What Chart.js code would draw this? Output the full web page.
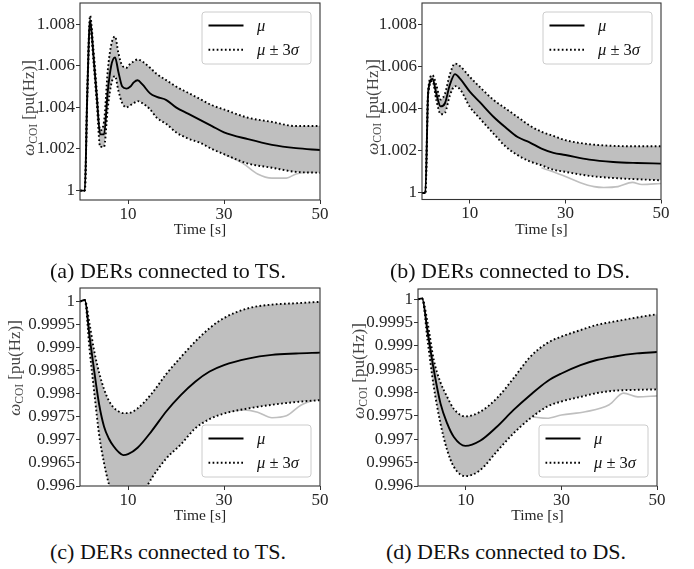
<!DOCTYPE html>
<html><head><meta charset="utf-8">
<script src="https://cdn.jsdelivr.net/npm/chart.js@4.4.0/dist/chart.umd.min.js"></script>
<style>
html,body{margin:0;padding:0;background:#fff;}
#wrap{position:relative;width:694px;height:569px;overflow:hidden;background:#fff;}
#wrap canvas{position:absolute;}
.cap{position:absolute;font-family:"Liberation Serif","Times New Roman",serif;font-size:22px;color:#111;white-space:nowrap;transform:translate(-50%,-50%);line-height:1;}
</style></head><body>
<div id="wrap">
<canvas id="cA"></canvas><canvas id="cB"></canvas><canvas id="cC"></canvas><canvas id="cD"></canvas>
<div class="cap" id="capA" style="left:168px;top:271px"></div>
<div class="cap" id="capB" style="left:510px;top:271px"></div>
<div class="cap" id="capC" style="left:168px;top:552px"></div>
<div class="cap" id="capD" style="left:506px;top:552px"></div>
</div>
<script>
// ---------- data ----------
const xTicks = [10, 30, 50];
const yTicksTop = [1, 1.002, 1.004, 1.006, 1.008];
const yTicksBottom = [0.996, 0.9965, 0.997, 0.9975, 0.998, 0.9985, 0.999, 0.9995, 1];
const meanLabel = 'μ';
const bandLabel = 'μ ± 3σ';
const xTitle = 'Time [s]';
const yLabelSymbol = 'ω';
const yLabelSub = 'COI';
const yLabelUnit = ' [pu(Hz)]';
const captions = ['(a) DERs connected to TS.', '(b) DERs connected to DS.', '(c) DERs connected to TS.', '(d) DERs connected to DS.'];

// (a) frequency rise, DERs at TS
const timeA  = [0, 1, 1.5, 2.1, 2.8, 3.5, 4.2, 5.0, 5.8, 6.5, 7.3, 8.0, 8.8, 9.7, 10.5, 11.2, 12.0, 13.0, 14.6, 16.0, 18.0, 20, 22.5, 25, 27.5, 30, 35, 40, 45, 50];
const meanA  = [1.0, 1.0, 1.0045, 1.0082, 1.0065, 1.0045, 1.0027, 1.0027, 1.0048, 1.0060, 1.0064, 1.0057, 1.0050, 1.0049, 1.0050, 1.0052, 1.0053, 1.0051, 1.00467, 1.0045, 1.00435, 1.0040, 1.0037, 1.0034, 1.0031, 1.0028, 1.00247, 1.0022, 1.00204, 1.00195];
const upperA = [1.0, 1.0, 1.0047, 1.0084, 1.0068, 1.0048, 1.0029, 1.0033, 1.0058, 1.0070, 1.0074, 1.0066, 1.0060, 1.0059, 1.0061, 1.0062, 1.0063, 1.0062, 1.0059, 1.0056, 1.0053, 1.0050, 1.0047, 1.0044, 1.0041, 1.0039, 1.0035, 1.0033, 1.0031, 1.0031];
const lowerA = [1.0, 1.0, 1.0043, 1.0079, 1.0062, 1.0042, 1.0021, 1.0021, 1.0040, 1.0051, 1.0055, 1.0048, 1.0042, 1.0040, 1.0041, 1.0042, 1.0043, 1.0042, 1.0039, 1.0035, 1.0032, 1.0028, 1.0025, 1.0023, 1.0020, 1.00175, 1.0013, 1.0011, 1.0009, 1.00086];
const outTimeA = [30, 34, 37, 40, 43, 45, 48, 50];
const outA     = [1.00175, 1.0013, 1.0008, 1.0006, 1.0006, 1.0008, 1.0009, 1.00095];

// (b) frequency rise, DERs at DS
const timeB  = [0, 0.7, 1.3, 2.2, 3.0, 3.9, 4.8, 5.8, 6.9, 8.0, 10, 12.1, 15, 17.5, 20, 22.5, 25, 27.5, 30, 35, 40, 45, 50];
const meanB  = [1.0, 1.0, 1.0048, 1.0054, 1.0047, 1.0041, 1.00425, 1.0051, 1.00563, 1.0054, 1.0048, 1.0043, 1.0036, 1.0031, 1.00265, 1.0024, 1.0021, 1.0019, 1.0018, 1.00158, 1.00147, 1.00142, 1.00139];
const upperB = [1.0, 1.0, 1.0049, 1.00558, 1.0051, 1.00443, 1.0047, 1.0056, 1.00613, 1.0060, 1.0055, 1.00502, 1.0044, 1.0040, 1.0036, 1.0032, 1.0029, 1.0027, 1.0025, 1.00231, 1.00223, 1.00221, 1.00221];
const lowerB = [1.0, 1.0, 1.0047, 1.0053, 1.0044, 1.00373, 1.0038, 1.0046, 1.00506, 1.0049, 1.00408, 1.00353, 1.0028, 1.0022, 1.00179, 1.0015, 1.00131, 1.0011, 1.0010, 1.00081, 1.00071, 1.00065, 1.0006];
const outTimeB = [25, 30, 33, 36, 38, 41, 44, 46, 50];
const outB     = [1.0012, 1.00078, 1.0005, 1.0003, 1.00026, 1.0003, 1.0005, 1.0004, 1.00045];

// (c) frequency drop, DERs at TS
const timeC  = [0, 1, 2, 3, 4, 5, 6, 7, 8, 9, 10, 12, 15, 18, 21, 24, 27, 30, 35, 40, 45, 50];
const meanC  = [1.0, 1.00003, 0.99923, 0.99846, 0.99776, 0.99729, 0.99703, 0.99686, 0.99674, 0.99667, 0.99669, 0.99683, 0.99720, 0.99762, 0.99797, 0.99826, 0.99848, 0.99862, 0.99876, 0.99884, 0.99887, 0.99889];
const upperC = [1.0, 1.00003, 0.99950, 0.99890, 0.99845, 0.99810, 0.99785, 0.99770, 0.99762, 0.99758, 0.99758, 0.99768, 0.99801, 0.99843, 0.99879, 0.99913, 0.99942, 0.99964, 0.99985, 0.99993, 0.99996, 0.99999];
const lowerC = [1.0, 1.00002, 0.99895, 0.99800, 0.99710, 0.99650, 0.99605, 0.99575, 0.99558, 0.99550, 0.99548, 0.99565, 0.99618, 0.99660, 0.99690, 0.99725, 0.99745, 0.99757, 0.99768, 0.99776, 0.99782, 0.99786];
const outTimeC = [30, 34, 37, 40, 43, 46, 50];
const outC     = [0.9976, 0.99765, 0.9976, 0.99748, 0.99752, 0.99775, 0.9979];

// (d) frequency drop, DERs at DS
const timeD  = [0, 0.85, 2, 3.3, 4.7, 6.1, 7.5, 9.9, 13, 16.5, 20, 23.5, 27, 30, 34, 37.4, 40.9, 45.8, 50];
const meanD  = [1.0, 1.00002, 0.99931, 0.99849, 0.99777, 0.99734, 0.99705, 0.99686, 0.99697, 0.99727, 0.99763, 0.99795, 0.99824, 0.99841, 0.99859, 0.9987, 0.99877, 0.99884, 0.99887];
const upperD = [1.0, 1.00002, 0.99950, 0.99870, 0.99822, 0.99791, 0.99765, 0.99749, 0.99759, 0.99788, 0.99831, 0.99877, 0.99906, 0.9992, 0.99934, 0.99945, 0.99952, 0.99961, 0.99968];
const lowerD = [1.0, 1.00002, 0.99912, 0.99813, 0.99734, 0.99677, 0.99641, 0.99621, 0.99634, 0.99674, 0.99713, 0.99745, 0.9977, 0.99781, 0.99791, 0.99799, 0.99804, 0.99806, 0.99807];
const outTimeD = [24, 27, 30, 35, 40, 43, 46, 50];
const outD     = [0.99748, 0.99745, 0.99752, 0.99759, 0.99774, 0.99799, 0.99791, 0.99793];

// ---------- rendering ----------
const FONT = '"Liberation Serif", "Times New Roman", serif';
const TXT = '#262626';
const BAND = '#bfbfbf';

function pts(t, v) { return t.map((x, i) => ({ x: x, y: v[i] })); }
function fmt(v) { return parseFloat(Number(v).toFixed(4)).toString(); }

function drawRich(ctx, text, x, y, size) {
  let cx = x;
  for (const ch of text) {
    const greek = /[\u0370-\u03ff]/.test(ch);
    ctx.font = (greek ? 'italic ' : '') + size + 'px ' + FONT;
    ctx.fillText(ch, cx, y);
    cx += ctx.measureText(ch).width;
  }
}

const framePlugin = {
  id: 'frame',
  afterDatasetsDraw(chart) {
    const ctx = chart.ctx, a = chart.chartArea;
    ctx.save();
    ctx.strokeStyle = '#333';
    ctx.lineWidth = 1.1;
    ctx.strokeRect(a.left, a.top, a.right - a.left, a.bottom - a.top);
    ctx.restore();
  }
};

const legendPlugin = {
  id: 'mplLegend',
  afterDraw(chart, args, opts) {
    const ctx = chart.ctx, a = chart.chartArea;
    const items = chart.data.datasets.slice(0, 2);
    const w = 109, h = 52;
    const x0 = a.right - 9 - w;
    const y0 = opts.loc === 'upper' ? a.top + 9 : a.bottom - 9 - h;
    ctx.save();
    ctx.beginPath();
    ctx.roundRect(x0, y0, w, h, 3);
    ctx.fillStyle = 'rgba(255,255,255,0.8)';
    ctx.fill();
    ctx.strokeStyle = '#cccccc';
    ctx.lineWidth = 1;
    ctx.stroke();
    items.forEach((ds, i) => {
      const yy = y0 + 13.5 + i * 24.2;
      ctx.beginPath();
      ctx.setLineDash(ds.borderDash || []);
      ctx.lineCap = 'butt';
      ctx.lineWidth = ds.borderWidth;
      ctx.strokeStyle = ds.borderColor;
      ctx.moveTo(x0 + 6.5, yy);
      ctx.lineTo(x0 + 41.5, yy);
      ctx.stroke();
      ctx.setLineDash([]);
      ctx.fillStyle = '#111';
      ctx.textBaseline = 'middle';
      drawRich(ctx, ds.label, x0 + 55, yy + 1, 16.5);
    });
    ctx.restore();
  }
};

const yLabelPlugin = {
  id: 'yLab',
  afterDraw(chart, args, opts) {
    const ctx = chart.ctx;
    const s = opts.size;
    const segs = [
      { t: yLabelSymbol, f: 'italic ' + s + 'px ' + FONT, dy: 0 },
      { t: yLabelSub, f: (s * 0.68) + 'px ' + FONT, dy: s * 0.22 },
      { t: yLabelUnit, f: s + 'px ' + FONT, dy: 0 }
    ];
    ctx.save();
    let total = 0;
    segs.forEach(g => { ctx.font = g.f; g.w = ctx.measureText(g.t).width; total += g.w; });
    ctx.translate(opts.x, opts.y);
    ctx.rotate(-Math.PI / 2);
    ctx.fillStyle = '#444';
    ctx.textBaseline = 'alphabetic';
    let cx = -total / 2;
    segs.forEach(g => { ctx.font = g.f; ctx.fillText(g.t, cx, s * 0.33 + g.dy); cx += g.w; });
    ctx.restore();
  }
};

const panels = [
  { id: 'cA', left: 0, top: 0, w: 347, h: 240, pad: { left: 0, right: 27, top: 3, bottom: 0 }, yW: 80, xH: 40,
    ymin: 0.99955, ymax: 1.00901, yTicks: yTicksTop, loc: 'upper', lab: { x: 28, y: 108 },
    t: timeA, mean: meanA, hi: upperA, lo: lowerA, out: [[outTimeA, outA]] },
  { id: 'cB', left: 347, top: 0, w: 347, h: 240, pad: { left: 0, right: 33, top: 3, bottom: 0 }, yW: 75, xH: 40.5,
    ymin: 0.99969, ymax: 1.009, yTicks: yTicksTop, loc: 'upper', lab: { x: 25, y: 107 },
    t: timeB, mean: meanB, hi: upperB, lo: lowerB, out: [[outTimeB, outB]] },
  { id: 'cC', left: 0, top: 270, w: 347, h: 256, pad: { left: 0, right: 27, top: 18, bottom: 0 }, yW: 80, xH: 40,
    ymin: 0.996, ymax: 1.00029, yTicks: yTicksBottom, loc: 'lower', lab: { x: 14, y: 98 },
    t: timeC, mean: meanC, hi: upperC, lo: lowerC, out: [[outTimeC, outC]] },
  { id: 'cD', left: 347, top: 270, w: 347, h: 256, pad: { left: 0, right: 37, top: 19, bottom: 0 }, yW: 71, xH: 40,
    ymin: 0.996, ymax: 1.00022, yTicks: yTicksBottom, loc: 'lower', lab: { x: 11, y: 101 },
    t: timeD, mean: meanD, hi: upperD, lo: lowerD, out: [[outTimeD, outD]] }
];

['capA', 'capB', 'capC', 'capD'].forEach((id, i) => { document.getElementById(id).textContent = captions[i]; });

panels.forEach(p => {
  const cv = document.getElementById(p.id);
  cv.width = p.w; cv.height = p.h;
  cv.style.width = p.w + 'px'; cv.style.height = p.h + 'px';
  cv.style.left = p.left + 'px'; cv.style.top = p.top + 'px';
  const lineBase = { pointRadius: 0, cubicInterpolationMode: 'monotone', spanGaps: true };
  const datasets = [
    Object.assign({ label: meanLabel, data: pts(p.t, p.mean), borderColor: '#000', borderWidth: 1.9, fill: false }, lineBase),
    Object.assign({ label: bandLabel, data: pts(p.t, p.hi), borderColor: '#000', borderWidth: 1.9, borderDash: [1.7, 2.4],
      fill: '+1', backgroundColor: BAND }, lineBase),
    Object.assign({ label: bandLabel + ' (lower)', data: pts(p.t, p.lo), borderColor: '#000', borderWidth: 1.9, borderDash: [1.7, 2.4], fill: false }, lineBase)
  ];
  p.out.forEach(o => datasets.push(Object.assign({ label: 'sample', data: pts(o[0], o[1]), borderColor: BAND, borderWidth: 1.6, fill: false }, lineBase)));

  new Chart(cv.getContext('2d'), {
    type: 'line',
    data: { datasets: datasets },
    options: {
      responsive: false, animation: false, devicePixelRatio: 1,
      layout: { padding: p.pad },
      plugins: {
        legend: { display: false }, tooltip: { enabled: false },
        filler: { drawTime: 'beforeDatasetsDraw' },
        mplLegend: { loc: p.loc },
        yLab: { x: p.lab.x, y: p.lab.y, size: 17 }
      },
      scales: {
        x: {
          type: 'linear', min: 0, max: 50,
          afterBuildTicks: s => { s.ticks = xTicks.map(v => ({ value: v })); },
          afterFit: s => { s.height = p.xH; s.paddingLeft = 0; s.paddingRight = 0; },
          ticks: { font: { family: FONT, size: 17 }, color: TXT, padding: 0, maxRotation: 0, autoSkip: false, callback: v => fmt(v) },
          grid: { drawOnChartArea: false, drawTicks: true, tickLength: 4, color: '#333', lineWidth: 1 },
          border: { display: false },
          title: { display: true, text: xTitle, font: { family: FONT, size: 15.5 }, color: TXT, padding: { top: 0, bottom: 1 } }
        },
        y: {
          type: 'linear', min: p.ymin, max: p.ymax,
          afterBuildTicks: s => { s.ticks = p.yTicks.map(v => ({ value: v })); },
          afterFit: s => { s.width = p.yW; s.paddingTop = 0; s.paddingBottom = 0; },
          ticks: { font: { family: FONT, size: 17 }, color: TXT, padding: 1, autoSkip: false, callback: v => fmt(v) },
          grid: { drawOnChartArea: false, drawTicks: true, tickLength: 4, color: '#333', lineWidth: 1 },
          border: { display: false }
        }
      }
    },
    plugins: [framePlugin, legendPlugin, yLabelPlugin]
  });
});
</script>
</body></html>
